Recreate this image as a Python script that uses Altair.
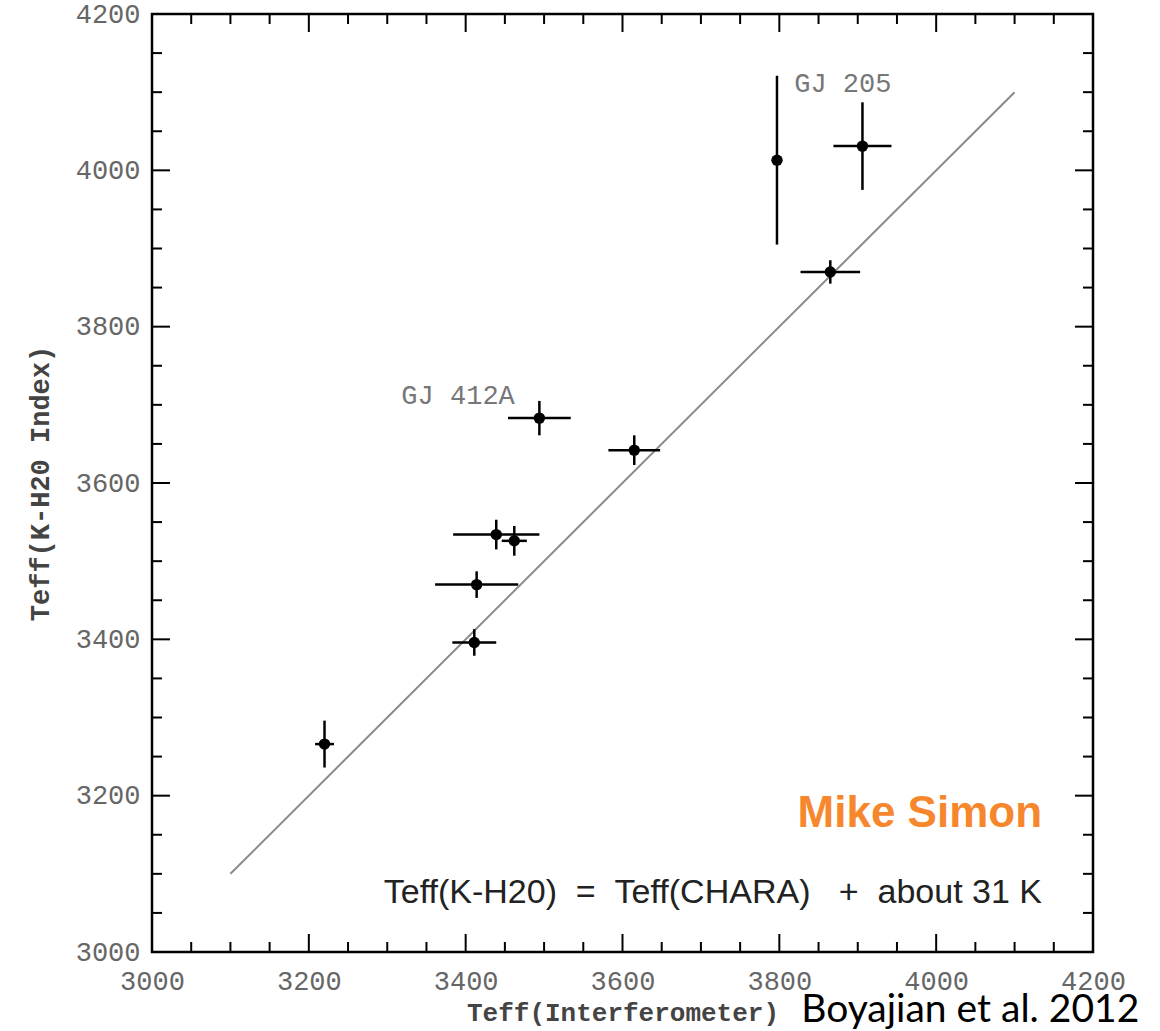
import altair as alt
import pandas as pd

# ---- data ----
teff_int = [3220, 3411, 3414, 3439, 3462, 3494, 3615, 3797, 3906, 3865]
teff_kh2o = [3266, 3396, 3470, 3534, 3526, 3683, 3642, 4013, 4031, 3870]
x_err = [12, 28, 53, 55, 16, 40, 33, 0, 37, 38]
y_err = [30, 17, 17, 19, 19, 22, 19, 108, 56, 15]

line_x = [3100, 4100]
line_y = [3100, 4100]

tick_values = [3000, 3200, 3400, 3600, 3800, 4000, 4200]
major_ticks = [3200, 3400, 3600, 3800, 4000]
minor_ticks = [v for v in range(3050, 4200, 50) if v % 200 != 0]

star_labels = ["GJ 205", "GJ 412A"]
star_label_x = [3819, 3318]
star_label_y = [4100, 3701]

W, H = 941, 938
MONO = "Liberation Mono"
NB = "\u00a0"

pts = pd.DataFrame({
    "x": teff_int, "y": teff_kh2o,
    "xlo": [a - e for a, e in zip(teff_int, x_err)],
    "xhi": [a + e for a, e in zip(teff_int, x_err)],
    "ylo": [a - e for a, e in zip(teff_kh2o, y_err)],
    "yhi": [a + e for a, e in zip(teff_kh2o, y_err)],
})
line_df = pd.DataFrame({"x": line_x, "y": line_y})
major_df = pd.DataFrame({"t": major_ticks})
minor_df = pd.DataFrame({"t": minor_ticks})
lab_df = pd.DataFrame({"label": star_labels, "x": star_label_x, "y": star_label_y})

xs = alt.Scale(domain=[3000, 4200], nice=False, zero=False)
ys = alt.Scale(domain=[3000, 4200], nice=False, zero=False)

x_axis = alt.Axis(values=tick_values, format="d", ticks=False, domain=False, grid=False,
                  labelFont=MONO, labelFontSize=27, labelColor="#666",
                  labelPadding=16, labelFlush=False, labelOverlap=False,
                  title="Teff(Interferometer)", titleFont=MONO, titleFontSize=26,
                  titleFontWeight="bold", titleColor="#444",
                  titleBaseline="alphabetic", titleY=68, titleX=W / 2,
                  titleAlign="center")
y_axis = alt.Axis(values=tick_values, format="d", ticks=False, domain=False, grid=False,
                  labelFont=MONO, labelFontSize=27, labelColor="#666",
                  labelPadding=12, labelFlush=False, labelOverlap=False,
                  title="Teff(K-H20 Index)", titleFont=MONO, titleFontSize=27,
                  titleFontWeight="bold", titleColor="#444",
                  titleAngle=-90, titleAlign="center", titleBaseline="middle",
                  titleX=-112, titleY=H / 2)

base = alt.Chart(line_df).mark_line(color="#8a8a8a", strokeWidth=2).encode(
    x=alt.X("x:Q", scale=xs, axis=x_axis),
    y=alt.Y("y:Q", scale=ys, axis=y_axis),
)

xerr = alt.Chart(pts).mark_rule(color="black", strokeWidth=2.5).encode(
    x=alt.X("xlo:Q", scale=xs, axis=None), x2="xhi:Q",
    y=alt.Y("y:Q", scale=ys, axis=None),
)
yerr = alt.Chart(pts).mark_rule(color="black", strokeWidth=2.5).encode(
    x=alt.X("x:Q", scale=xs, axis=None),
    y=alt.Y("ylo:Q", scale=ys, axis=None), y2="yhi:Q",
)
dots = alt.Chart(pts).mark_circle(color="black", opacity=1, size=130).encode(
    x=alt.X("x:Q", scale=xs, axis=None),
    y=alt.Y("y:Q", scale=ys, axis=None),
)

def xticks(df, length):
    bottom = alt.Chart(df).mark_rule(color="black", strokeWidth=2).encode(
        x=alt.X("t:Q", scale=xs, axis=None),
        y=alt.value(H), y2=alt.value(H - length))
    top = alt.Chart(df).mark_rule(color="black", strokeWidth=2).encode(
        x=alt.X("t:Q", scale=xs, axis=None),
        y=alt.value(0), y2=alt.value(length))
    return [bottom, top]

def yticks(df, length):
    left = alt.Chart(df).mark_rule(color="black", strokeWidth=2).encode(
        y=alt.Y("t:Q", scale=ys, axis=None),
        x=alt.value(0), x2=alt.value(length))
    right = alt.Chart(df).mark_rule(color="black", strokeWidth=2).encode(
        y=alt.Y("t:Q", scale=ys, axis=None),
        x=alt.value(W), x2=alt.value(W - length))
    return [left, right]

tick_layers = xticks(major_df, 18) + xticks(minor_df, 10) + yticks(major_df, 18) + yticks(minor_df, 10)

star_text = alt.Chart(lab_df).mark_text(
    font=MONO, fontSize=27, color="#777", align="left", baseline="alphabetic"
).encode(
    x=alt.X("x:Q", scale=xs, axis=None),
    y=alt.Y("y:Q", scale=ys, axis=None),
    text="label:N",
)

ann_df = pd.DataFrame({"a": [0]})
mike = alt.Chart(ann_df).mark_text(
    text="Mike Simon", font="Liberation Sans", fontWeight="bold", fontSize=44,
    color="#F7872D", align="right", baseline="alphabetic"
).encode(x=alt.datum(4135, type="quantitative", scale=xs, axis=None),
         y=alt.datum(3160, type="quantitative", scale=ys, axis=None))
eq_text = "Teff(K-H20)" + NB * 2 + "=" + NB * 2 + "Teff(CHARA)" + NB * 3 + "+" + NB * 2 + "about 31 K"
eq = alt.Chart(ann_df).mark_text(
    text=eq_text, font="Liberation Sans",
    fontSize=34, color="#222", align="right", baseline="alphabetic"
).encode(x=alt.datum(4135, type="quantitative", scale=xs, axis=None),
         y=alt.datum(3063, type="quantitative", scale=ys, axis=None))
boy = alt.Chart(ann_df).mark_text(
    text="Boyajian et al. 2012", font="Lato", fontSize=39,
    color="black", align="right", baseline="alphabetic"
).encode(x=alt.datum(4259, type="quantitative", scale=xs, axis=None),
         y=alt.datum(2911, type="quantitative", scale=ys, axis=None))

chart = alt.layer(base, *tick_layers, xerr, yerr, dots, star_text, mike, eq, boy).resolve_axis(
    x="independent", y="independent"
).properties(
    width=W, height=H,
    padding={"left": 152, "top": 14, "right": 67, "bottom": 79},
    autosize=alt.AutoSizeParams(type="none"),
    background="white",
).configure_view(stroke="black", strokeWidth=2.5)

chart.save("out.html", embed_options={"renderer": "svg", "actions": False})
